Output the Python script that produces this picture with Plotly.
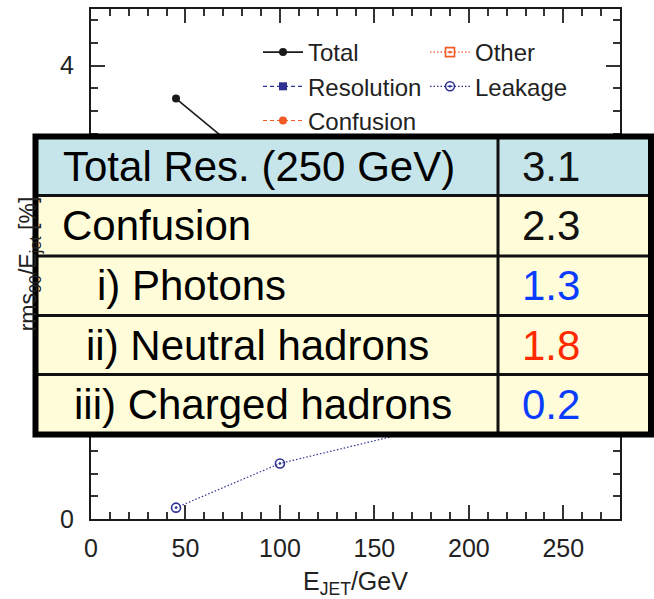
import plotly.graph_objects as go

# Jet energy resolution breakdown versus jet energy
e_jet = [45, 100, 180, 250]
total = [3.71, 2.95, 2.85, 3.1]
resolution = [3.0, 2.1, 1.6, 1.3]
confusion = [1.4, 1.8, 2.1, 2.3]
other = [1.1, 1.0, 1.0, 1.0]
leakage = [0.1, 0.49, 0.81, 1.0]

# Summary table at 250 GeV
table_labels = ["Total Res. (250 GeV)", "Confusion", "i) Photons",
                "ii) Neutral hadrons", "iii) Charged hadrons"]
table_values = [3.1, 2.3, 1.3, 1.8, 0.2]
value_colors = ["#111111", "#111111", "#0a3cff", "#ff2a00", "#0a3cff"]

W, H = 654, 599
L, R, T, B = 91, 34, 9, 80
PW, PH = W - L - R, H - T - B


def px(x):
    return (x - L) / PW


def py(y):
    return (H - B - y) / PH


BLUE = "#2e3192"
ORANGE = "#f15a24"
FONT = "Liberation Sans, Arial, sans-serif"

fig = go.Figure()
fig.add_trace(go.Scatter(x=e_jet, y=total, name="Total", mode="lines+markers",
                         line=dict(color="#1a1a1a", width=1.6),
                         marker=dict(symbol="circle", size=8, color="#1a1a1a"),
                         legend="legend"))
fig.add_trace(go.Scatter(x=e_jet, y=resolution, name="Resolution", mode="lines+markers",
                         line=dict(color=BLUE, width=1.2, dash="4px,3px"),
                         marker=dict(symbol="square", size=8, color=BLUE),
                         legend="legend"))
fig.add_trace(go.Scatter(x=e_jet, y=confusion, name="Confusion", mode="lines+markers",
                         line=dict(color=ORANGE, width=1.2, dash="4px,3px"),
                         marker=dict(symbol="circle", size=8, color=ORANGE),
                         legend="legend"))
fig.add_trace(go.Scatter(x=e_jet, y=other, name="Other", mode="lines+markers",
                         line=dict(color=ORANGE, width=1.2, dash="1.5px,2px"),
                         marker=dict(symbol="square-open-dot", size=9, color=ORANGE,
                                     line=dict(width=1.6, color=ORANGE)),
                         legend="legend2"))
fig.add_trace(go.Scatter(x=e_jet, y=leakage, name="Leakage", mode="lines+markers",
                         line=dict(color=BLUE, width=1.2, dash="1.5px,2px"),
                         marker=dict(symbol="circle-open-dot", size=9, color=BLUE,
                                     line=dict(width=1.6, color=BLUE)),
                         legend="legend2"))

axis_common = dict(showgrid=False, zeroline=False, showline=True, linecolor="#1a1a1a",
                   linewidth=2, mirror="allticks", ticks="inside", ticklen=14,
                   tickwidth=1.5, tickcolor="#333333",
                   tickfont=dict(family=FONT, size=25, color="#222222"))

fig.update_xaxes(range=[0, 280], dtick=50, tick0=0, ticklabelstandoff=6,
                 minor=dict(dtick=10, ticklen=7, tickwidth=1.5, tickcolor="#333333",
                            ticks="inside", showgrid=False),
                 title=dict(text="E<sub>JET</sub>/GeV", standoff=12,
                            font=dict(family=FONT, size=25, color="#222222")),
                 **axis_common)
fig.update_yaxes(range=[0, 4.5], dtick=1, tick0=0, ticklabelstandoff=10,
                 minor=dict(dtick=0.2, ticklen=7, tickwidth=1.5, tickcolor="#333333",
                            ticks="inside", showgrid=False),
                 title=dict(text="rms<sub>90</sub>/E<sub>jet</sub> [%]", standoff=17,
                            font=dict(family=FONT, size=23, color="#222222")),
                 **axis_common)

legend_common = dict(font=dict(family=FONT, size=24, color="#222222"),
                     bgcolor="rgba(0,0,0,0)", borderwidth=0, itemwidth=40,
                     xanchor="left", yanchor="top", tracegroupgap=0)
fig.update_layout(
    legend=dict(x=px(258), y=py(30), **legend_common),
    legend2=dict(x=px(425), y=py(30), **legend_common),
)

# Summary table drawn on top of the plot
shapes = []
top, bottom, left, right = 136.5, 434.5, 35.5, 651
col = 498
row_edges = [top, 195.5, 256, 315.5, 374.5, bottom]
fills = ["#c6e5ea"] + ["#fffdd9"] * 4
for i in range(5):
    shapes.append(dict(type="rect", xref="paper", yref="paper",
                       x0=px(left), x1=px(right), y0=py(row_edges[i]), y1=py(row_edges[i + 1]),
                       fillcolor=fills[i], line=dict(width=0), layer="above"))
for yy in row_edges[1:-1]:
    shapes.append(dict(type="line", xref="paper", yref="paper",
                       x0=px(left), x1=px(right), y0=py(yy), y1=py(yy),
                       line=dict(color="#111111", width=3), layer="above"))
shapes.append(dict(type="line", xref="paper", yref="paper",
                   x0=px(col), x1=px(col), y0=py(top), y1=py(bottom),
                   line=dict(color="#111111", width=3), layer="above"))
shapes.append(dict(type="rect", xref="paper", yref="paper",
                   x0=px(left), x1=px(right), y0=py(top), y1=py(bottom),
                   line=dict(color="#000000", width=6), fillcolor="rgba(0,0,0,0)",
                   layer="above"))

label_x = [61, 60, 95, 84, 72]
annotations = []
for i, (lab, val, vc) in enumerate(zip(table_labels, table_values, value_colors)):
    yc = (row_edges[i] + row_edges[i + 1]) / 2
    annotations.append(dict(text=lab, xref="paper", yref="paper", x=px(label_x[i]), y=py(yc),
                            xanchor="left", yanchor="middle", showarrow=False,
                            font=dict(family=FONT, size=42, color="#000000")))
    annotations.append(dict(text=f"{val:.1f}", xref="paper", yref="paper", x=px(520), y=py(yc),
                            xanchor="left", yanchor="middle", showarrow=False,
                            font=dict(family=FONT, size=42, color=vc)))

fig.update_layout(
    width=W, height=H,
    margin=dict(l=L, r=R, t=T, b=B, autoexpand=False),
    plot_bgcolor="white", paper_bgcolor="white",
    shapes=shapes, annotations=annotations,
)

fig.write_html("out.html")
